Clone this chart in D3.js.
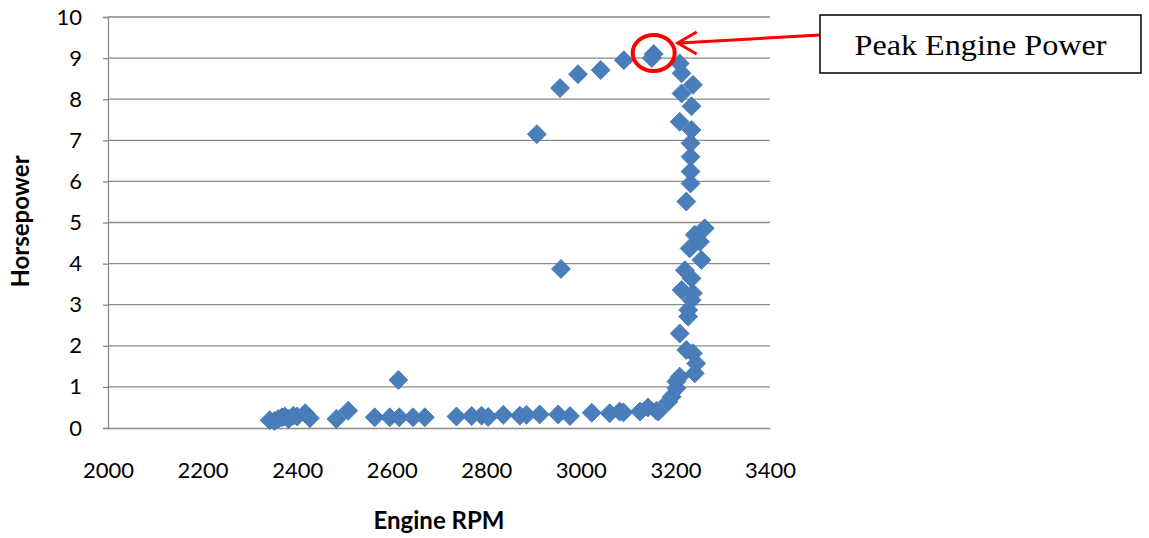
<!DOCTYPE html>
<html>
<head>
<meta charset="utf-8">
<script src="https://cdn.jsdelivr.net/npm/d3@7"></script>
<style>
  html, body { margin: 0; padding: 0; background: #fff; }
  svg { display: block; }
</style>
</head>
<body>
<svg id="chart" width="1149" height="538"></svg>
<script>
// Engine speed (RPM) and measured horsepower for each sample
const rpm = [
  2342, 2352, 2360, 2368, 2374, 2382, 2392, 2400, 2417, 2427,
  2483, 2508, 2564, 2596, 2614, 2616, 2645, 2670, 2737, 2769,
  2790, 2804, 2836, 2871, 2885, 2913, 2952, 2977, 3023, 3061,
  3082, 3090, 3125, 3142, 3160, 3164,
  3185, 3192, 3202, 3202, 3209, 3241, 3244, 3237, 3223, 3209,
  3227, 3227, 3234, 3237, 3213, 3234, 3220, 3255, 3230, 3252,
  3241, 3262, 3223, 3232, 3232, 3232, 3232, 3234, 3209, 3234,
  3213, 3237, 3213, 3209,
  3154, 3150, 3091, 3042, 2994, 2956, 2907, 2958
];
const horsepower = [
  0.19, 0.17, 0.22, 0.26, 0.28, 0.22, 0.30, 0.28, 0.36, 0.24,
  0.22, 0.42, 0.26, 0.26, 1.17, 0.26, 0.26, 0.26, 0.28, 0.29,
  0.30, 0.27, 0.32, 0.30, 0.32, 0.33, 0.33, 0.29, 0.37, 0.36,
  0.40, 0.38, 0.40, 0.50, 0.42, 0.40,
  0.64, 0.76, 0.97, 1.13, 1.25, 1.33, 1.57, 1.82, 1.90, 2.30,
  2.71, 2.87, 3.11, 3.28, 3.36, 3.64, 3.84, 4.09, 4.37, 4.53,
  4.70, 4.86, 5.51, 5.95, 6.24, 6.60, 6.93, 7.25, 7.45, 7.83,
  8.14, 8.35, 8.63, 8.87,
  9.10, 9.00, 8.95, 8.71, 8.61, 8.27, 7.15, 3.87
];
const xTicks = [2000, 2200, 2400, 2600, 2800, 3000, 3200, 3400];
const yTicks = [0, 1, 2, 3, 4, 5, 6, 7, 8, 9, 10];
const peak = { rpm: 3154, hp: 9.10, label: "Peak Engine Power" };

const svg = d3.select("#chart");
const plotLeft = 108, plotRight = 770, plotTop = 17, plotBottom = 428;

const x = d3.scaleLinear().domain([2000, 3400]).range([plotLeft, plotRight]);
const y = d3.scaleLinear().domain([0, 10]).range([plotBottom, plotTop]);

const gridColor = "#8a8a8a";
const tickFont = "Lato, 'Open Sans', sans-serif";

// horizontal gridlines
svg.append("g")
  .selectAll("line")
  .data(yTicks.filter(d => d > 0))
  .join("line")
  .attr("x1", plotLeft).attr("x2", plotRight)
  .attr("y1", d => y(d)).attr("y2", d => y(d))
  .attr("stroke", gridColor).attr("stroke-width", 1.3);

// y axis
const yAxis = svg.append("g")
  .attr("transform", `translate(${plotLeft},0)`)
  .call(d3.axisLeft(y).tickValues(yTicks).tickSize(5).tickPadding(21));
yAxis.select(".domain").attr("stroke", gridColor).attr("stroke-width", 1.3);
yAxis.selectAll(".tick line").attr("stroke", gridColor).attr("stroke-width", 1.3);
yAxis.selectAll("text")
  .attr("font-family", tickFont).attr("font-size", 22).attr("fill", "#000");

// x axis
const xAxis = svg.append("g")
  .attr("transform", `translate(0,${plotBottom})`)
  .call(d3.axisBottom(x).tickValues(xTicks).tickSize(0).tickPadding(34).tickFormat(d3.format("d")));
xAxis.select(".domain").attr("stroke", gridColor).attr("stroke-width", 1.3);
xAxis.selectAll("text")
  .attr("font-family", tickFont).attr("font-size", 22).attr("fill", "#000");

// axis titles
svg.append("text")
  .attr("transform", `translate(29,${(plotTop + plotBottom) / 2 - 1}) rotate(-90)`)
  .attr("text-anchor", "middle")
  .attr("font-family", tickFont).attr("font-weight", "bold").attr("font-size", 24)
  .text("Horsepower");

svg.append("text")
  .attr("x", 439).attr("y", 529)
  .attr("text-anchor", "middle")
  .attr("font-family", tickFont).attr("font-weight", "bold").attr("font-size", 24)
  .text("Engine RPM");

// diamond markers
const half = 9.5;
const diamond = `M0,${-half}L${half},0L0,${half}L${-half},0Z`;
svg.append("g")
  .selectAll("path")
  .data(rpm.map((r, i) => ({ r, h: horsepower[i] })))
  .join("path")
  .attr("d", diamond)
  .attr("transform", d => `translate(${x(d.r)},${y(d.h)})`)
  .attr("fill", "#4a7ebb")
  .attr("stroke", "#4275b3")
  .attr("stroke-width", 0.8);

// callout: circle around the peak, arrow and label box
const px = x(peak.rpm), py = y(peak.hp);
svg.append("ellipse")
  .attr("cx", px).attr("cy", py - 1)
  .attr("rx", 21).attr("ry", 18)
  .attr("fill", "none").attr("stroke", "#ff0000").attr("stroke-width", 4);

const boxX = 820, boxY = 15, boxW = 321, boxH = 58;
const tipX = px + 24, tipY = py - 11;
svg.append("line")
  .attr("x1", boxX).attr("y1", boxY + 20)
  .attr("x2", tipX + 2).attr("y2", tipY)
  .attr("stroke", "#ff0000").attr("stroke-width", 3);
svg.append("path")
  .attr("d", `M${tipX + 19},${tipY - 11}L${tipX},${tipY}L${tipX + 19},${tipY + 11}`)
  .attr("fill", "none").attr("stroke", "#ff0000").attr("stroke-width", 3)
  .attr("stroke-linejoin", "miter");

svg.append("rect")
  .attr("x", boxX).attr("y", boxY)
  .attr("width", boxW).attr("height", boxH)
  .attr("fill", "#fff").attr("stroke", "#000").attr("stroke-width", 1.5);
svg.append("text")
  .attr("x", boxX + boxW / 2).attr("y", boxY + boxH / 2 + 11)
  .attr("text-anchor", "middle")
  .attr("font-family", "'Liberation Serif', 'Times New Roman', serif")
  .attr("font-size", 30)
  .attr("textLength", 252)
  .attr("lengthAdjust", "spacingAndGlyphs")
  .text(peak.label);
</script>
</body>
</html>
